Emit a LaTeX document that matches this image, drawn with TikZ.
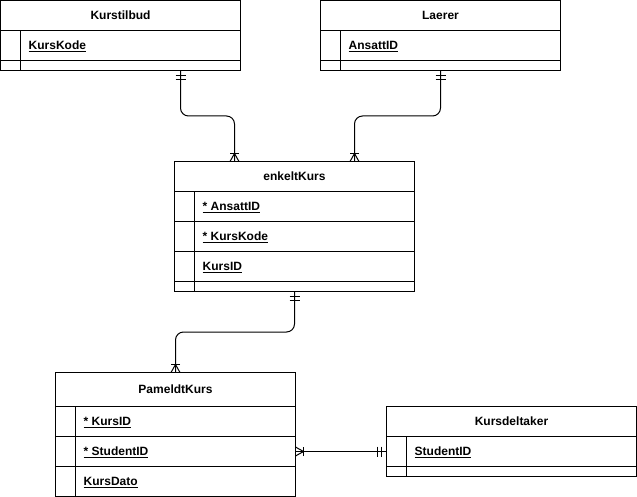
\documentclass[tikz,border=0pt]{standalone}
\usepackage{fontspec}
\setmainfont{Liberation Sans}
\usetikzlibrary{calc}
\begin{document}
\begin{tikzpicture}[x=1pt,y=-1pt,
  tbl/.style={draw, line width=1pt, inner sep=0pt, outer sep=0pt, anchor=north west, minimum width=240pt},
  ln/.style={line width=1pt},
  hdr/.style={font=\fontsize{12}{14}\selectfont\bfseries, inner sep=0pt, anchor=base, yshift=-4.4pt},
  fld/.style={font=\fontsize{12}{14}\selectfont\bfseries, inner sep=0pt, anchor=base west, yshift=-4.4pt},
  rel/.style={line width=1pt, rounded corners=8pt},
  crowfoot/.pic={\draw[line width=1pt] (0,4.5) -- (8,0) -- (0,-4.5); \draw[line width=1pt] (8,4.5) -- (8,-4.5);},
  mandone/.pic={\draw[line width=1pt] (5,5) -- (5,-5) (9,5) -- (9,-5);}
]
\useasboundingbox (0,0) rectangle (637,497);

% Kurstilbud
\node[tbl, minimum height=70pt] (kt) at (0.5,0.5) {};
\draw[ln] (0.5,30.5) -- (240.5,30.5) (0.5,60.5) -- (240.5,60.5) (20.5,30.5) -- (20.5,70.5);
\node[hdr] (kth) at (120.5,15.5) {Kurstilbud};
\node[fld] (kt1) at (28.5,45.5) {\underline{KursKode}};

% Laerer
\node[tbl, minimum height=70pt] (la) at (320.5,0.5) {};
\draw[ln] (320.5,30.5) -- (560.5,30.5) (320.5,60.5) -- (560.5,60.5) (340.5,30.5) -- (340.5,70.5);
\node[hdr] (lah) at (440.5,15.5) {Laerer};
\node[fld] (la1) at (348.5,45.5) {\underline{AnsattID}};

% enkeltKurs
\node[tbl, minimum height=130pt] (ek) at (174.5,161.5) {};
\draw[ln] (174.5,191.5) -- (414.5,191.5) (174.5,221.5) -- (414.5,221.5)
          (174.5,251.5) -- (414.5,251.5) (174.5,281.5) -- (414.5,281.5)
          (194.5,191.5) -- (194.5,291.5);
\node[hdr] (ekh) at (294.5,176.5) {enkeltKurs};
\node[fld] (ek1) at (202.5,206.5) {\underline{* AnsattID}};
\node[fld] (ek2) at (202.5,236.5) {\underline{* KursKode}};
\node[fld] (ek3) at (202.5,266.5) {\underline{KursID}};

% PameldtKurs
\node[tbl, minimum height=124pt] (pk) at (55.5,372.5) {};
\draw[ln] (55.5,406.5) -- (295.5,406.5) (55.5,436.5) -- (295.5,436.5)
          (55.5,466.5) -- (295.5,466.5) (75.5,406.5) -- (75.5,496.5);
\node[hdr] (pkh) at (175.5,389.5) {PameldtKurs};
\node[fld] (pk1) at (83.5,421.5) {\underline{* KursID}};
\node[fld] (pk2) at (83.5,451.5) {\underline{* StudentID}};
\node[fld] (pk3) at (83.5,481.5) {\underline{KursDato}};

% Kursdeltaker
\node[tbl, minimum width=250pt, minimum height=70pt] (kd) at (386.5,406.5) {};
\draw[ln] (386.5,436.5) -- (636.5,436.5) (386.5,466.5) -- (636.5,466.5) (406.5,436.5) -- (406.5,476.5);
\node[hdr] (kdh) at (511.5,421.5) {Kursdeltaker};
\node[fld] (kd1) at (414.5,451.5) {\underline{StudentID}};

% connector endpoints
\coordinate (a1) at ([xshift=180pt]kt.south west);
\coordinate (b1) at ([xshift=60pt]ek.north west);
\coordinate (a2) at ([xshift=120pt]la.south west);
\coordinate (b2) at ([xshift=180pt]ek.north west);
\coordinate (a3) at ([xshift=120pt]ek.south west);
\coordinate (b3) at ([xshift=120pt]pk.north west);
\coordinate (a4) at ([yshift=-79pt]pk.north east);
\coordinate (b4) at ([yshift=-45pt]kd.north west);

\draw[rel] (a1) |- ($(a1)!0.5!(b1)$) -| (b1);
\draw[rel] (a2) |- ($(a2)!0.5!(b2)$) -| (b2);
\draw[rel] (a3) |- ($(a3)!0.5!(b3)$) -| (b3);
\draw[ln] (a4) -- (b4);

\pic[rotate=-90] at (a1) {mandone};
\pic[rotate=-90] at (a2) {mandone};
\pic[rotate=-90] at (a3) {mandone};
\pic[rotate=180] at (b4) {mandone};
\pic[rotate=90] at (b1) {crowfoot};
\pic[rotate=90] at (b2) {crowfoot};
\pic[rotate=90] at (b3) {crowfoot};
\pic at (a4) {crowfoot};
\end{tikzpicture}
\end{document}
